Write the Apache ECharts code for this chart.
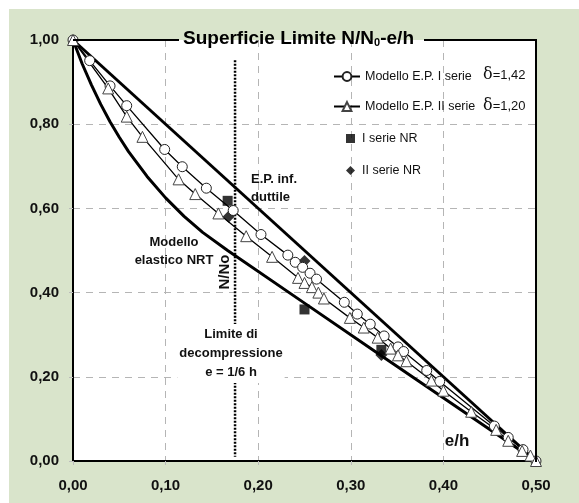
<!DOCTYPE html>
<html>
<head>
<meta charset="utf-8">
<script src="https://cdn.jsdelivr.net/npm/echarts@6/dist/echarts.min.js"></script>
<style>
	html, body { margin: 0; padding: 0; background: #fff; }
	#frame { position: absolute; left: 9px; top: 9px; width: 570px; height: 494px; background: #d9e4cb; }
	#chart { position: absolute; left: 0; top: 0; width: 579px; height: 503px; }
</style>
</head>
<body>
<div id="frame"></div>
<div id="chart"></div>
<script>
// Tick values of both axes
var xTicks = [0, 0.1, 0.2, 0.3, 0.4, 0.5]
var yTicks = [0, 0.2, 0.4, 0.6, 0.8, 1.0]

// Modello E.P. I serie (circles) [e/h, N/No]
var serieI_EP = [
	[0, 1], [0.018, 0.951], [0.04, 0.891], [0.058, 0.844], [0.099, 0.74], [0.118, 0.699],
	[0.144, 0.648], [0.173, 0.595], [0.203, 0.538], [0.232, 0.489], [0.24, 0.472],
	[0.248, 0.46], [0.256, 0.446], [0.263, 0.432], [0.293, 0.377], [0.307, 0.349],
	[0.321, 0.325], [0.336, 0.297], [0.351, 0.271], [0.357, 0.26], [0.382, 0.215],
	[0.396, 0.189], [0.455, 0.083], [0.47, 0.056], [0.486, 0.027], [0.5, 0]
]

// Modello E.P. II serie (triangles)
var serieII_EP = [
	[0, 1], [0.038, 0.885], [0.058, 0.818], [0.075, 0.77], [0.114, 0.669], [0.132, 0.634],
	[0.157, 0.588], [0.187, 0.534], [0.215, 0.485], [0.243, 0.435], [0.25, 0.423],
	[0.258, 0.413], [0.265, 0.4], [0.271, 0.386], [0.299, 0.34], [0.314, 0.317],
	[0.329, 0.293], [0.343, 0.267], [0.351, 0.251], [0.36, 0.237], [0.387, 0.191],
	[0.4, 0.167], [0.43, 0.117], [0.457, 0.074], [0.47, 0.048], [0.485, 0.024],
	[0.494, 0.013], [0.5, 0]
]

// Test results
var serieI_NR = [[0.167, 0.618], [0.25, 0.36], [0.333, 0.264]]
var serieII_NR = [[0.168, 0.58], [0.25, 0.475], [0.333, 0.252]]

// Limit curves
var epInfDuttile = [[0, 1], [0.5, 0]]
var elasticoNRT = [
	[0, 1], [0.01, 0.943], [0.02, 0.893], [0.03, 0.847], [0.04, 0.806], [0.05, 0.769],
	[0.06, 0.735], [0.08, 0.676], [0.1, 0.625], [0.12, 0.581], [0.14, 0.543],
	[0.167, 0.5], [0.25, 0.375], [0.333, 0.25], [0.42, 0.12], [0.5, 0]
]

// Limite di decompressione
var limiteDecomp = [[0.175, 0.952], [0.175, 0.01]]

var lineLegend = ['Modello E.P. I serie', 'Modello E.P. II serie']
var pointLegend = ['I serie NR', 'II serie NR']

var FONT = 'Liberation Sans'
var comma = (v) => v.toFixed(2).replace('.', ',')

var chart = echarts.init(document.getElementById('chart'))

var axisCommon = {
	type: 'value',
	axisLine: { show: true, onZero: false, lineStyle: { color: '#000', width: 2 } },
	axisTick: { show: true, length: 4, lineStyle: { color: '#bbb' } },
	axisLabel: { formatter: comma, color: '#111', fontWeight: 'bold', fontSize: 15, fontFamily: FONT },
	splitLine: { show: true, showMinLine: false, showMaxLine: false, lineStyle: { color: '#b5b5b5', type: [7, 6] } },
}

var deltaRich = {
	d: { font: '16px DejaVu Serif', verticalAlign: 'bottom', lineHeight: 18 },
	t: { font: '13px ' + FONT, verticalAlign: 'bottom', lineHeight: 18, padding: [0, 0, 1, 0] },
}

var option = {
	backgroundColor: 'transparent',
	animation: false,
	textStyle: { fontFamily: FONT },
	grid: { left: 73, top: 40, width: 463, height: 421, show: true, backgroundColor: '#fff', borderWidth: 0 },
	xAxis: Object.assign({}, axisCommon, {
		min: xTicks[0], max: xTicks[xTicks.length - 1], interval: 0.1,
		axisLabel: Object.assign({}, axisCommon.axisLabel, { margin: 17 }),
	}),
	yAxis: Object.assign({}, axisCommon, {
		min: yTicks[0], max: yTicks[yTicks.length - 1], interval: 0.2,
		axisLabel: Object.assign({}, axisCommon.axisLabel, { margin: 14 }),
	}),
	legend: [
		{
			data: lineLegend,
			orient: 'vertical',
			left: 333,
			top: 70,
			padding: 0,
			itemWidth: 26,
			itemHeight: 11,
			itemGap: 17,
			textStyle: { fontSize: 12.5, color: '#111', fontFamily: FONT },
		},
		{
			data: pointLegend,
			orient: 'vertical',
			left: 346,
			top: 132,
			padding: 0,
			itemWidth: 9,
			itemHeight: 9,
			itemGap: 19,
			textStyle: { fontSize: 12.5, color: '#111', fontFamily: FONT, padding: [0, 0, 0, 2] },
		},
	],
	series: [
		{
			name: 'E.P. inf. duttile',
			type: 'line',
			data: epInfDuttile,
			showSymbol: false,
			lineStyle: { color: '#000', width: 3 },
		},
		{
			name: 'Modello elastico NRT',
			type: 'line',
			data: elasticoNRT,
			showSymbol: false,
			lineStyle: { color: '#000', width: 3 },
		},
		{
			name: 'Limite di decompressione',
			type: 'line',
			data: limiteDecomp,
			showSymbol: false,
			lineStyle: { color: '#000', width: 2.5, type: [2, 1.5] },
		},
		{
			name: 'Modello E.P. I serie',
			type: 'line',
			data: serieI_EP,
			symbol: 'circle',
			symbolSize: 10,
			itemStyle: { color: '#fff', borderColor: '#222', borderWidth: 1 },
			lineStyle: { color: '#000', width: 1.3 },
		},
		{
			name: 'Modello E.P. II serie',
			type: 'line',
			data: serieII_EP,
			symbol: 'triangle',
			symbolSize: 11,
			itemStyle: { color: '#fff', borderColor: '#444', borderWidth: 1 },
			lineStyle: { color: '#000', width: 1.3 },
		},
		{
			name: 'I serie NR',
			type: 'scatter',
			data: serieI_NR,
			symbol: 'rect',
			symbolSize: 10,
			itemStyle: { color: '#000' },
		},
		{
			name: 'II serie NR',
			type: 'scatter',
			data: serieII_NR,
			symbol: 'diamond',
			symbolSize: 12,
			itemStyle: { color: '#000' },
		},
	],
	graphic: [
		// top border, broken by the title
		{ type: 'line', z: 100, shape: { x1: 73, y1: 40, x2: 179, y2: 40 }, style: { stroke: '#000', lineWidth: 2 } },
		{ type: 'line', z: 100, shape: { x1: 424, y1: 40, x2: 537, y2: 40 }, style: { stroke: '#000', lineWidth: 2 } },
		// right border
		{ type: 'line', z: 100, shape: { x1: 536, y1: 40, x2: 536, y2: 462 }, style: { stroke: '#000', lineWidth: 2 } },
		{
			type: 'text', z: 100, left: 183, top: 29,
			style: {
				text: 'Superficie Limite N/N{sub|0}-e/h',
				font: 'bold 19px ' + FONT,
				fill: '#000',
				rich: { sub: { font: 'bold 11px ' + FONT, verticalAlign: 'bottom', padding: [9, 0, 0, 0] } },
			},
		},
		{ type: 'text', z: 100, left: 483, top: 67, style: { text: '{d|δ}{t|=1,42}', fill: '#111', rich: deltaRich } },
		{ type: 'text', z: 100, left: 483, top: 98, style: { text: '{d|δ}{t|=1,20}', fill: '#111', rich: deltaRich } },
		{ type: 'text', z: 100, left: 251, top: 170, style: { text: 'E.P. inf.\nduttile', font: 'bold 13px ' + FONT, fill: '#111', lineHeight: 18 } },
		{ type: 'text', z: 100, x: 174, y: 233, style: { text: 'Modello\nelastico NRT', font: 'bold 13px ' + FONT, fill: '#111', lineHeight: 18, align: 'center' } },
		{
			type: 'text', z: 100, x: 231, y: 324,
			style: {
				text: 'Limite di\ndecompressione\ne = 1/6 h', font: 'bold 13px ' + FONT, fill: '#111',
				lineHeight: 19, align: 'center', backgroundColor: '#fff', padding: [1, 2],
			},
		},
		{ type: 'text', z: 100, x: 225, y: 272, rotation: Math.PI / 2, style: { text: 'N/No', font: 'bold 15px ' + FONT, fill: '#111', align: 'center', verticalAlign: 'middle' } },
		{ type: 'text', z: 100, x: 457, y: 441, style: { text: 'e/h', font: 'bold 17px ' + FONT, fill: '#111', align: 'center', verticalAlign: 'middle' } },
	],
}

chart.setOption(option)
</script>
</body>
</html>
